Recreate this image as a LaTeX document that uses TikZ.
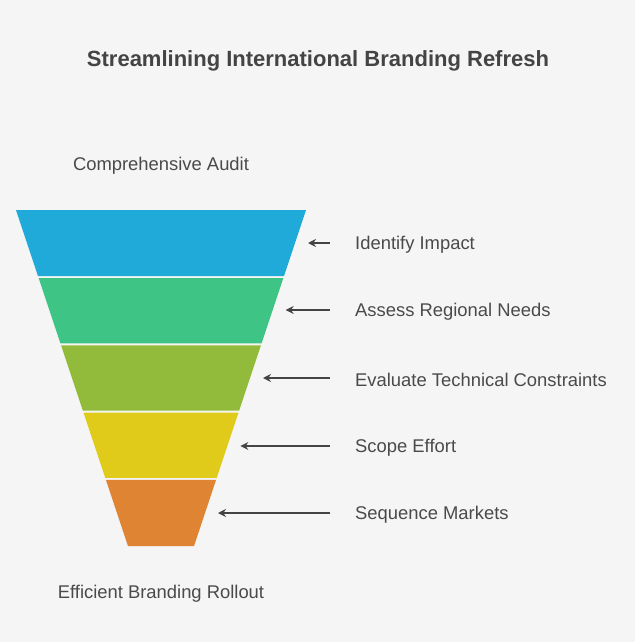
\documentclass[tikz,border=0pt]{standalone}
\usepackage{fontspec}
\setmainfont{Liberation Sans}
\usetikzlibrary{arrows.meta}
\definecolor{bg}{HTML}{F5F5F5}
\definecolor{txt}{HTML}{4A4A4A}
\definecolor{ttl}{HTML}{444444}
\definecolor{cA}{HTML}{1FAAD9}
\definecolor{cB}{HTML}{3EC585}
\definecolor{cC}{HTML}{93BB3B}
\definecolor{cD}{HTML}{E0CB1B}
\definecolor{cE}{HTML}{DE8433}
\tikzset{
  lbl/.style={text=txt, font=\fontsize{18.4}{22}\selectfont, inner sep=0pt},
  steplbl/.style={lbl, anchor=west},
  ttlstyle/.style={text=ttl, font=\fontsize{22}{26}\selectfont\bfseries, inner sep=0pt},
  conn/.style={draw=ttl, line width=1.6pt, -{Stealth[length=8pt,width=8pt]}},
}
\begin{document}
\begin{tikzpicture}[x=1pt,y=-1pt]
\fill[bg] (0,0) rectangle (635,642);
\useasboundingbox (0,0) rectangle (635,642);
% funnel: left x = 16 + (y-210)/3, right x = 306 - (y-210)/3
\foreach \ya/\yb/\col in {210/276.2/cA, 278.2/343.4/cB, 345.4/410.6/cC, 412.6/477.8/cD, 479.8/546/cE}{
  \fill[\col] ({16+(\ya-210)/3},\ya) -- ({306-(\ya-210)/3},\ya) -- ({306-(\yb-210)/3},\yb) -- ({16+(\yb-210)/3},\yb) -- cycle;
}
\node[ttlstyle] (title) at (318,60.5) {Streamlining International Branding Refresh};
\node[lbl] (top) at (161,165.5) {Comprehensive Audit};
\node[lbl] (bottom) at (161,593.5) {Efficient Branding Rollout};
\foreach \y/\nm/\t in {243/1/Identify Impact, 310/2/Assess Regional Needs, 378/3/Evaluate Technical Constraints, 446/4/Scope Effort, 513/5/Sequence Markets}{
  \coordinate (tail\nm) at (330,\y);
  \coordinate (tip\nm) at ({306-(\y-210)/3+13},\y);
  \node[steplbl] (lab\nm) at (355,\y+2) {\t};
  \draw[conn] (tail\nm) -- (tip\nm);
}
\end{tikzpicture}
\end{document}
